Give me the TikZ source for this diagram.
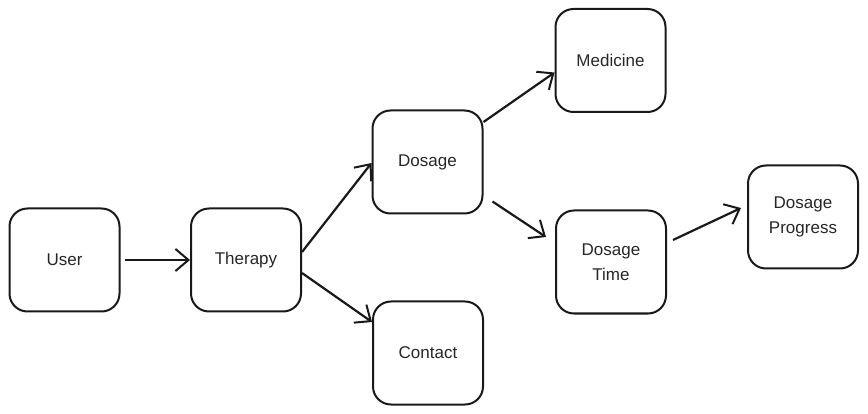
\documentclass[tikz,border=0pt]{standalone}
\usepackage{fontspec}
\setmainfont{Liberation Sans}
\usetikzlibrary{arrows.meta}
\begin{document}
\begin{tikzpicture}[x=1pt,y=-1pt,
  box/.style={draw=black!90, line width=2pt, rounded corners=18pt, minimum width=110pt, minimum height=103pt, align=center, inner sep=0pt, font=\fontsize{17}{25}\selectfont, text=black!85},
  arr/.style={draw=black!90, line width=2.2pt, -{Straight Barb[length=13pt,width=22pt,line width=2pt]}}]
\useasboundingbox (0,0) rectangle (868,414);
\node[box] (user) at (64.5,260) {User};
\node[box] (therapy) at (246,260) {Therapy};
\node[box] (dosage) at (427.5,162) {Dosage};
\node[box] (medicine) at (610.5,60.5) {Medicine};
\node[box] (time) at (611,262) {Dosage\\Time};
\node[box] (progress) at (803,217) {Dosage\\Progress};
\node[box] (contact) at (428,353) {Contact};
\draw[arr] ([xshift=4pt]user.east) -- (therapy.west);
\draw[arr] ([yshift=8pt]therapy.east) -- ([yshift=-1pt]dosage.west);
\draw[arr] ([yshift=-13pt]therapy.east) -- ([yshift=31pt]contact.west);
\draw[arr] ([yshift=40pt]dosage.east) -- ([yshift=-12pt]medicine.west);
\draw[arr] ([shift={(9pt,13pt)}]dosage.south east) -- ([shift={(-9pt,25pt)}]time.west);
\draw[arr] ([shift={(6pt,22pt)}]time.east) -- ([shift={(-6pt,9pt)}]progress.west);
\end{tikzpicture}
\end{document}
